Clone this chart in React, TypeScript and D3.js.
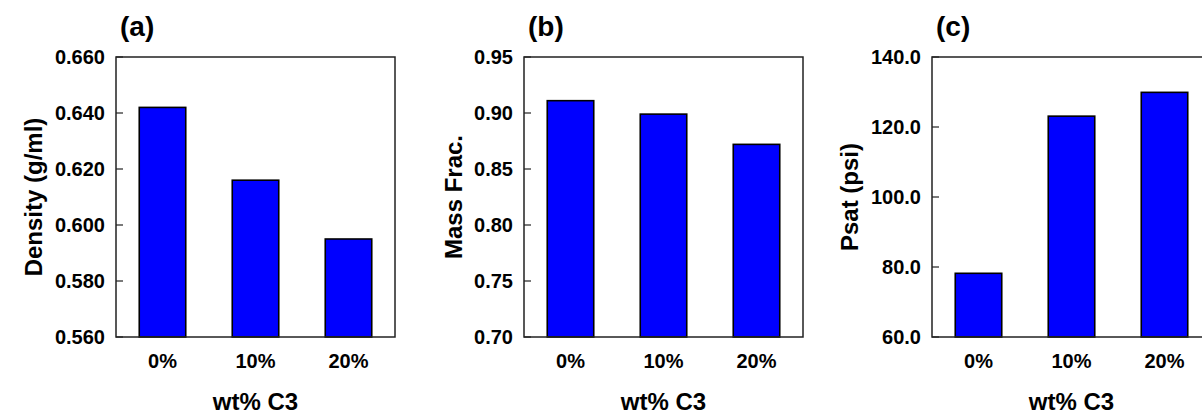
import React from 'react';
import * as d3 from 'd3';

// wt% C3 categories shared by all three panels
const categories = ['0%', '10%', '20%'];

const densityValues = [0.642, 0.616, 0.595];
const densityTicks = [0.56, 0.58, 0.6, 0.62, 0.64, 0.66];

const massFracValues = [0.911, 0.899, 0.872];
const massFracTicks = [0.7, 0.75, 0.8, 0.85, 0.9, 0.95];

const psatValues = [78.2, 123.1, 129.9];
const psatTicks = [60, 80, 100, 120, 140];

const FONT = '"Liberation Sans", Arial, sans-serif';
const TOP = 57;
const PLOT_H = 280;
const PLOT_W = 279;

type PanelProps = {
  left: number;
  label: string;
  yTitle: string;
  values: number[];
  ticks: number[];
  fmt: (v: number) => string;
  labelWidth: number;
};

const Panel = ({ left, label, yTitle, values, ticks, fmt, labelWidth }: PanelProps) => {
  const x = d3.scaleBand()
    .domain(categories)
    .range([left, left + PLOT_W])
    .paddingInner(0.5)
    .paddingOuter(0.25);
  const y = d3.scaleLinear()
    .domain([ticks[0], ticks[ticks.length - 1]])
    .range([TOP + PLOT_H, TOP]);
  const titleX = left - 11 - labelWidth - 21;

  return (
    <g fontFamily={FONT} fontWeight="bold" fill="#000">
      <text x={left + 4} y={36} fontSize={28}>{label}</text>

      {values.map((v, i) => (
        <rect
          key={categories[i]}
          x={x(categories[i])}
          y={y(v)}
          width={x.bandwidth()}
          height={y(ticks[0]) - y(v)}
          fill="#0000ff"
          stroke="#000"
          strokeWidth={1.6}
        />
      ))}

      <rect x={left} y={TOP} width={PLOT_W} height={PLOT_H}
        fill="none" stroke="#222" strokeWidth={1.5} />

      {ticks.map(t => (
        <g key={t}>
          <line x1={left} x2={left + 7} y1={y(t)} y2={y(t)} stroke="#222" strokeWidth={1.2} />
          <text x={left - 11} y={y(t)} dy="0.35em" textAnchor="end" fontSize={20}>{fmt(t)}</text>
        </g>
      ))}

      {categories.map(c => (
        <text key={c} x={x(c)! + x.bandwidth() / 2} y={368} textAnchor="middle" fontSize={20}>{c}</text>
      ))}

      <text x={left + PLOT_W / 2} y={410} textAnchor="middle" fontSize={24}>wt% C3</text>
      <text
        transform={`translate(${titleX},${TOP + PLOT_H / 2}) rotate(-90)`}
        textAnchor="middle"
        dy="0.35em"
        fontSize={24}
      >{yTitle}</text>
    </g>
  );
};

export default function App() {
  return (
    <svg width={1202} height={416} style={{ position: 'absolute', left: 0, top: 0, background: '#fff' }}>
      <Panel left={116} label="(a)" yTitle="Density (g/ml)" values={densityValues}
        ticks={densityTicks} fmt={d3.format('.3f')} labelWidth={50} />
      <Panel left={524} label="(b)" yTitle="Mass Frac." values={massFracValues}
        ticks={massFracTicks} fmt={d3.format('.2f')} labelWidth={38} />
      <Panel left={932} label="(c)" yTitle="Psat (psi)" values={psatValues}
        ticks={psatTicks} fmt={d3.format('.1f')} labelWidth={50} />
    </svg>
  );
}
